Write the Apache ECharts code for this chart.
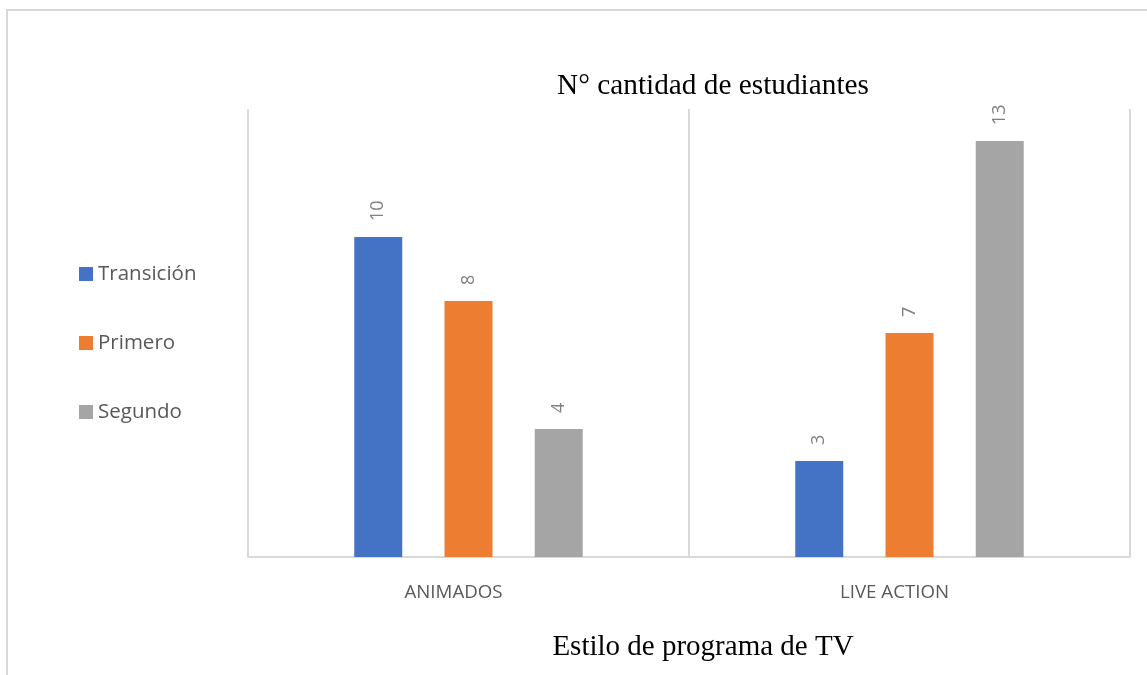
<!DOCTYPE html>
<html>
<head>
<meta charset="utf-8">
<script src="https://cdn.jsdelivr.net/npm/echarts@6/dist/echarts.min.js"></script>
<style>
  html, body { margin: 0; padding: 0; background: #fff; }
  #chart { width: 1147px; height: 675px; }
</style>
</head>
<body>
<div id="chart"></div>
<script>
const categories = ['ANIMADOS', 'LIVE ACTION']
const transicion = [10, 3]
const primero = [8, 7]
const segundo = [4, 13]

const labelStyle = {
  show: true,
  position: 'top',
  rotate: 90,
  align: 'left',
  verticalAlign: 'middle',
  distance: 16,
  color: '#7f7f7f',
  fontSize: 18,
  fontFamily: 'Open Sans'
}

const myChart = echarts.init(document.getElementById('chart'))
myChart.setOption({
  animation: false,
  title: {
    text: 'N° cantidad de estudiantes',
    left: 708,
    top: 67,
    textAlign: 'center',
    textStyle: {
      fontFamily: 'Liberation Serif',
      fontSize: 29.3,
      fontWeight: 'normal',
      color: '#000'
    }
  },
  legend: {
    orient: 'vertical',
    left: 74,
    top: 258,
    itemWidth: 14,
    itemHeight: 14,
    itemGap: 47,
    icon: 'rect',
    textStyle: {
      fontFamily: 'Open Sans',
      fontSize: 20.5,
      lineHeight: 22,
      color: '#595959'
    },
    data: ['Transición', 'Primero', 'Segundo']
  },
  grid: {
    left: 248,
    right: 17,
    top: 109,
    bottom: 118
  },
  xAxis: {
    type: 'category',
    data: categories,
    name: 'Estilo de programa de TV',
    nameLocation: 'middle',
    nameGap: 76,
    nameTextStyle: {
      fontFamily: 'Liberation Serif',
      fontSize: 29,
      color: '#000',
      padding: [0, 0, 0, 28]
    },
    axisLine: { lineStyle: { color: '#d9d9d9', width: 2 } },
    axisTick: { show: false },
    axisLabel: {
      margin: 26,
      fontFamily: 'Open Sans',
      fontSize: 18.7,
      color: '#595959',
      padding: [0, 30, 0, 0]
    },
    splitLine: { show: true, lineStyle: { color: '#d9d9d9', width: 2 } }
  },
  yAxis: {
    type: 'value',
    min: 0,
    max: 14,
    show: false
  },
  graphic: [{
    type: 'rect',
    shape: { x: 7, y: 10, width: 1200, height: 700 },
    style: { fill: 'none', stroke: '#d9d9d9', lineWidth: 2 },
    silent: true
  }],
  series: [
    {
      name: 'Transición',
      type: 'bar',
      data: transicion,
      barWidth: 48,
      barGap: '88%',
      itemStyle: { color: '#4472c4' },
      label: labelStyle
    },
    {
      name: 'Primero',
      type: 'bar',
      data: primero,
      barWidth: 48,
      itemStyle: { color: '#ed7d31' },
      label: labelStyle
    },
    {
      name: 'Segundo',
      type: 'bar',
      data: segundo,
      barWidth: 48,
      itemStyle: { color: '#a5a5a5' },
      label: labelStyle
    }
  ]
})
</script>
</body>
</html>
